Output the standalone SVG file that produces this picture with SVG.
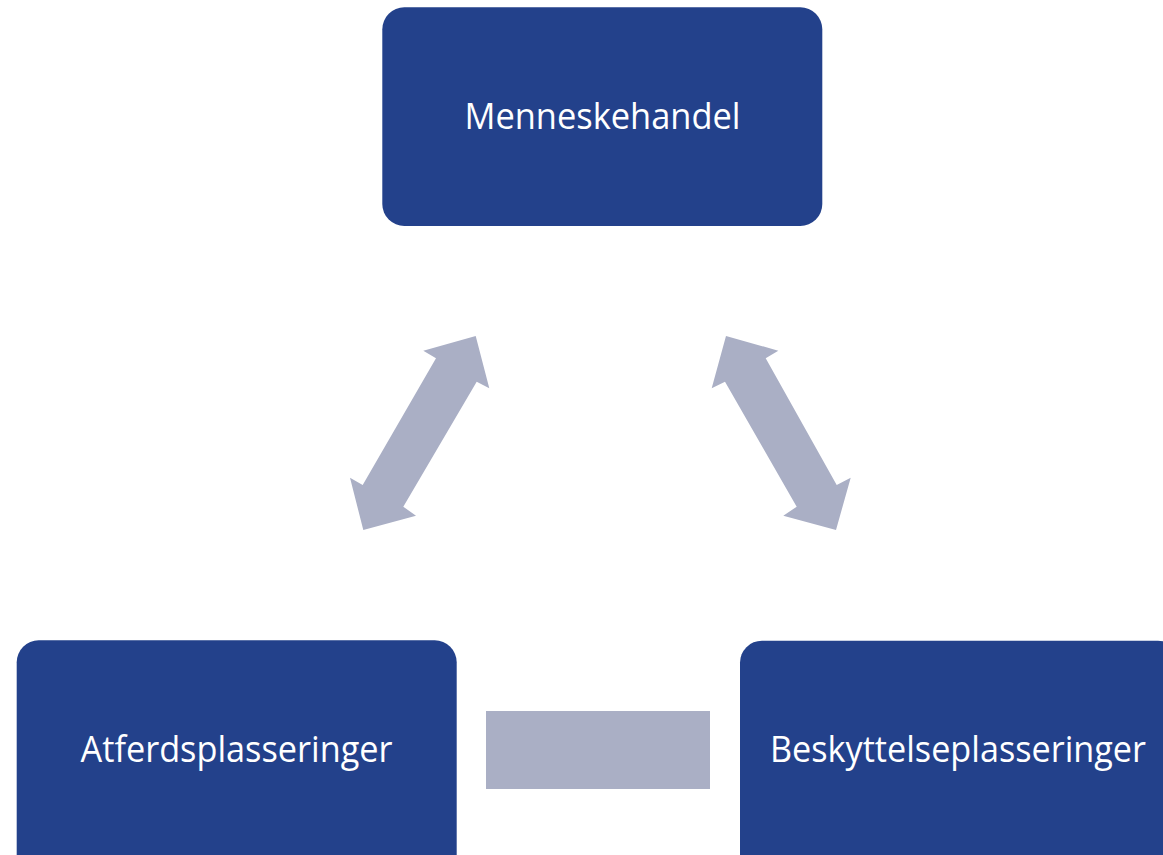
<svg xmlns="http://www.w3.org/2000/svg" width="1163" height="855" viewBox="0 0 1163 855">
  <style>
    .box { fill: #23418B; }
    .lbl { fill: #FFFFFF; font-family: "Open Sans", "Noto Sans", "Liberation Sans", sans-serif; font-size: 36px; text-anchor: middle; }
    .conn { fill: #AAAFC5; }
  </style>
  <rect width="1163" height="855" fill="#FFFFFF"/>
  <g id="connectors">
    <polygon class="conn" points="475.7,336 489.3,388.3 476.7,381.7 403.3,506.7 416,515.7 363.3,530 350,477.7 362.7,485 436,358.3 423.3,350.7"/>
    <polygon class="conn" points="726,336 711.7,388.3 725,381.7 796.7,506.7 783.3,515.7 836,530 850.7,477.7 836.7,485 765.7,358.3 778.3,350.7"/>
    <rect class="conn" x="486" y="711" width="224" height="78"/>
  </g>
  <g id="node-menneskehandel">
    <rect class="box" x="382.3" y="7.3" width="440" height="218.7" rx="22" ry="22"/>
    <text class="lbl" x="602.5" y="128.5" textLength="276" lengthAdjust="spacingAndGlyphs">Menneskehandel</text>
  </g>
  <g id="node-atferdsplasseringer">
    <rect class="box" x="16.7" y="640.3" width="440" height="240" rx="22" ry="22"/>
    <text class="lbl" x="236.5" y="761.7" textLength="312" lengthAdjust="spacingAndGlyphs">Atferdsplasseringer</text>
  </g>
  <g id="node-beskyttelseplasseringer">
    <rect class="box" x="740" y="640.7" width="440" height="240" rx="22" ry="22"/>
    <text class="lbl" x="958" y="761.7" textLength="376" lengthAdjust="spacingAndGlyphs">Beskyttelseplasseringer</text>
  </g>
</svg>
